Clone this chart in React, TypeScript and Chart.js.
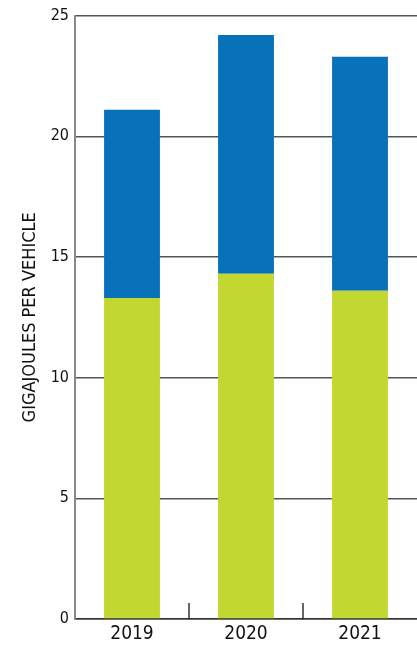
import React, { useEffect, useRef } from "react";
import { Chart, registerables } from "chart.js";

Chart.register(...registerables);

const categories = ["2019", "2020", "2021"];
const greenValues = [13.3, 14.3, 13.6];
const blueValues = [7.8, 9.9, 9.7];
const yTicks = [0, 5, 10, 15, 20, 25];
const yTitle = "GIGAJOULES PER VEHICLE";

const FONT = "'Liberation Sans Narrow', 'DejaVu Sans Condensed', sans-serif";

export default function App() {
  const ref = useRef<HTMLCanvasElement | null>(null);
  useEffect(() => {
    document.body.style.margin = "0";
    const chart = new Chart(ref.current!, {
      type: "bar",
      data: {
        labels: categories,
        datasets: [
          {
            data: greenValues,
            backgroundColor: "#c2d72f",
            barPercentage: 0.49,
            categoryPercentage: 1,
          },
          {
            data: blueValues,
            backgroundColor: "#0772ba",
            barPercentage: 0.49,
            categoryPercentage: 1,
          },
        ],
      },
      options: {
        animation: false,
        responsive: false,
        layout: { padding: { top: 13, right: 0, left: 0, bottom: 0 } },
        plugins: { legend: { display: false }, tooltip: { enabled: false } },
        scales: {
          x: {
            stacked: true,
            offset: true,
            afterFit: (s: any) => {
              s.height = 26;
            },
            grid: {
              offset: true,
              drawOnChartArea: false,
              drawTicks: true,
              tickLength: -16,
              color: (ctx: any) => (ctx.type === "tick" ? "#666" : "rgba(0,0,0,0)"),
              lineWidth: 2,
            },
            border: { color: "#333", width: 1.5 },
            ticks: {
              color: "#111",
              padding: 20,
              font: { family: FONT, size: 19 },
            },
          },
          y: {
            stacked: true,
            min: 0,
            max: 25,
            afterBuildTicks: (s: any) => {
              s.ticks = yTicks.map((v) => ({ value: v }));
            },
            afterFit: (s: any) => {
              s.width = 75;
            },
            grid: {
              drawTicks: false,
              color: "#555",
              lineWidth: 1.5,
            },
            border: { color: "#888", width: 2 },
            ticks: {
              color: "#111",
              padding: 6,
              font: { family: FONT, size: 16 },
            },
            title: {
              display: true,
              text: yTitle,
              color: "#111",
              font: { family: FONT, size: 18 },
              padding: { top: 20, bottom: 0 },
            },
          },
        },
      },
    });
    return () => chart.destroy();
  }, []);
  return (
    <div style={{ position: "absolute", left: 0, top: 0, width: 417, height: 645 }}>
      <canvas ref={ref} width={417} height={645} style={{ display: "block" }} />
    </div>
  );
}
